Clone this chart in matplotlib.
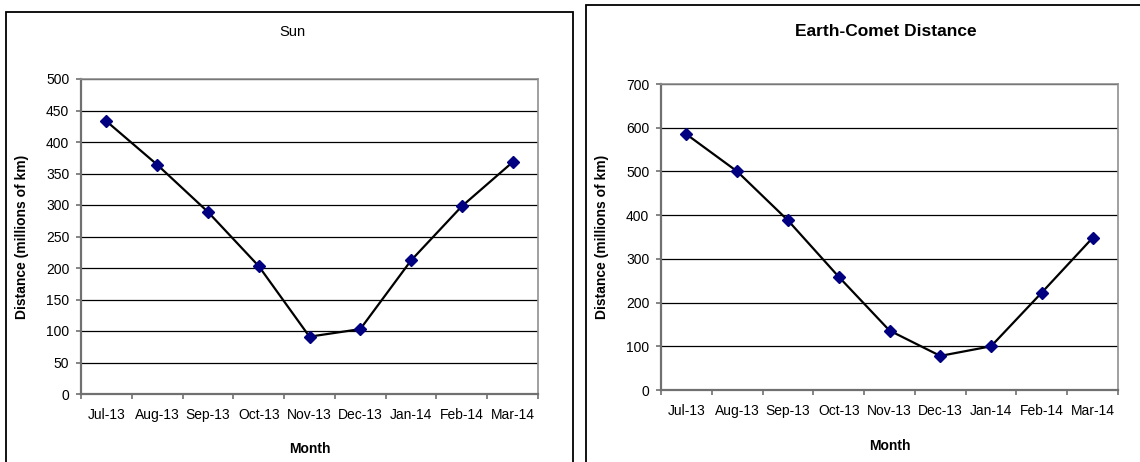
import numpy as np
import matplotlib
matplotlib.use("Agg")
import matplotlib.pyplot as plt
from matplotlib.patches import Rectangle

plt.rcParams['font.family'] = ['Liberation Sans', 'DejaVu Sans']

# ------------------------------------------------------------
#  data
# ------------------------------------------------------------
months = ['Jul-13', 'Aug-13', 'Sep-13', 'Oct-13', 'Nov-13',
          'Dec-13', 'Jan-14', 'Feb-14', 'Mar-14']
sun_dist = [433, 364, 289, 203, 91, 103, 212, 298, 368]
earth_dist = [585, 500, 388, 259, 136, 78, 100, 223, 348]

sun_ticks = [0, 50, 100, 150, 200, 250, 300, 350, 400, 450, 500]
earth_ticks = [0, 100, 200, 300, 400, 500, 600, 700]

W, H = 1140, 462
AXIS_C = '#707070'
NAVY = '#000080'


def px(x0, y0, x1, y1):
    """pixel box (top-left origin) -> figure fraction rect"""
    return [x0 / W, 1 - y1 / H, (x1 - x0) / W, (y1 - y0) / H]


def draw_panel(ax, values, yticks, ylab_x, month_y):
    x = np.arange(len(months))
    ax.plot(x, values, color='black', lw=1.6, zorder=3,
            marker='D', ms=5.8, mfc=NAVY, mec=NAVY)

    ax.set_xlim(-0.5, len(months) - 0.5)
    ax.set_ylim(yticks[0], yticks[-1])
    ax.set_yticks(yticks)
    ax.grid(axis='y', color='black', lw=0.9)
    ax.set_axisbelow(True)

    # labels at category centres, tick marks at the boundaries
    ax.set_xticks(x)
    ax.set_xticklabels(months, fontsize=10)
    ax.set_xticks(np.arange(len(months) + 1) - 0.5, minor=True)
    ax.tick_params(axis='x', which='major', length=0, pad=10)
    ax.tick_params(axis='x', which='minor', length=3.5, width=1.2,
                   color=AXIS_C, direction='out')
    ax.tick_params(axis='y', length=3.5, width=1.2, color=AXIS_C,
                   labelsize=10, pad=5)

    for side in ['left', 'bottom']:
        ax.spines[side].set_color(AXIS_C)
        ax.spines[side].set_linewidth(1.6)
    for side in ['top', 'right']:
        ax.spines[side].set_color('#909090')
        ax.spines[side].set_linewidth(1.2)

    ax.set_ylabel('Distance (millions of km)', fontsize=10, fontweight='bold')
    ax.yaxis.set_label_coords(ylab_x, 0.5)
    ax.set_xlabel('Month', fontsize=10, fontweight='bold')
    ax.xaxis.set_label_coords(0.5, month_y)


fig = plt.figure(figsize=(W / 100, H / 100), dpi=100)

# chart frames (bottom/right edges run off the picture)
fig.add_artist(Rectangle((6 / W, -0.1), (573 - 6) / W, 1.1 - 12 / H,
                         transform=fig.transFigure, fill=False,
                         ec='black', lw=1.3))
fig.add_artist(Rectangle((586 / W, -0.1), 0.6, 1.1 - 5 / H,
                         transform=fig.transFigure, fill=False,
                         ec='black', lw=1.3))

ax1 = fig.add_axes(px(81, 79, 538, 394))
draw_panel(ax1, sun_dist, sun_ticks, -0.113, -0.152)
fig.text(292 / W, 1 - 32 / H, 'Sun', ha='center', va='center', fontsize=10.5)

ax2 = fig.add_axes(px(661, 84, 1118, 390))
draw_panel(ax2, earth_dist, earth_ticks, -0.113, -0.16)
fig.text(886 / W, 1 - 32 / H, 'Earth-Comet Distance', ha='center',
         va='center', fontsize=12.5, fontweight='bold')

fig.savefig('out.png', dpi=100)
